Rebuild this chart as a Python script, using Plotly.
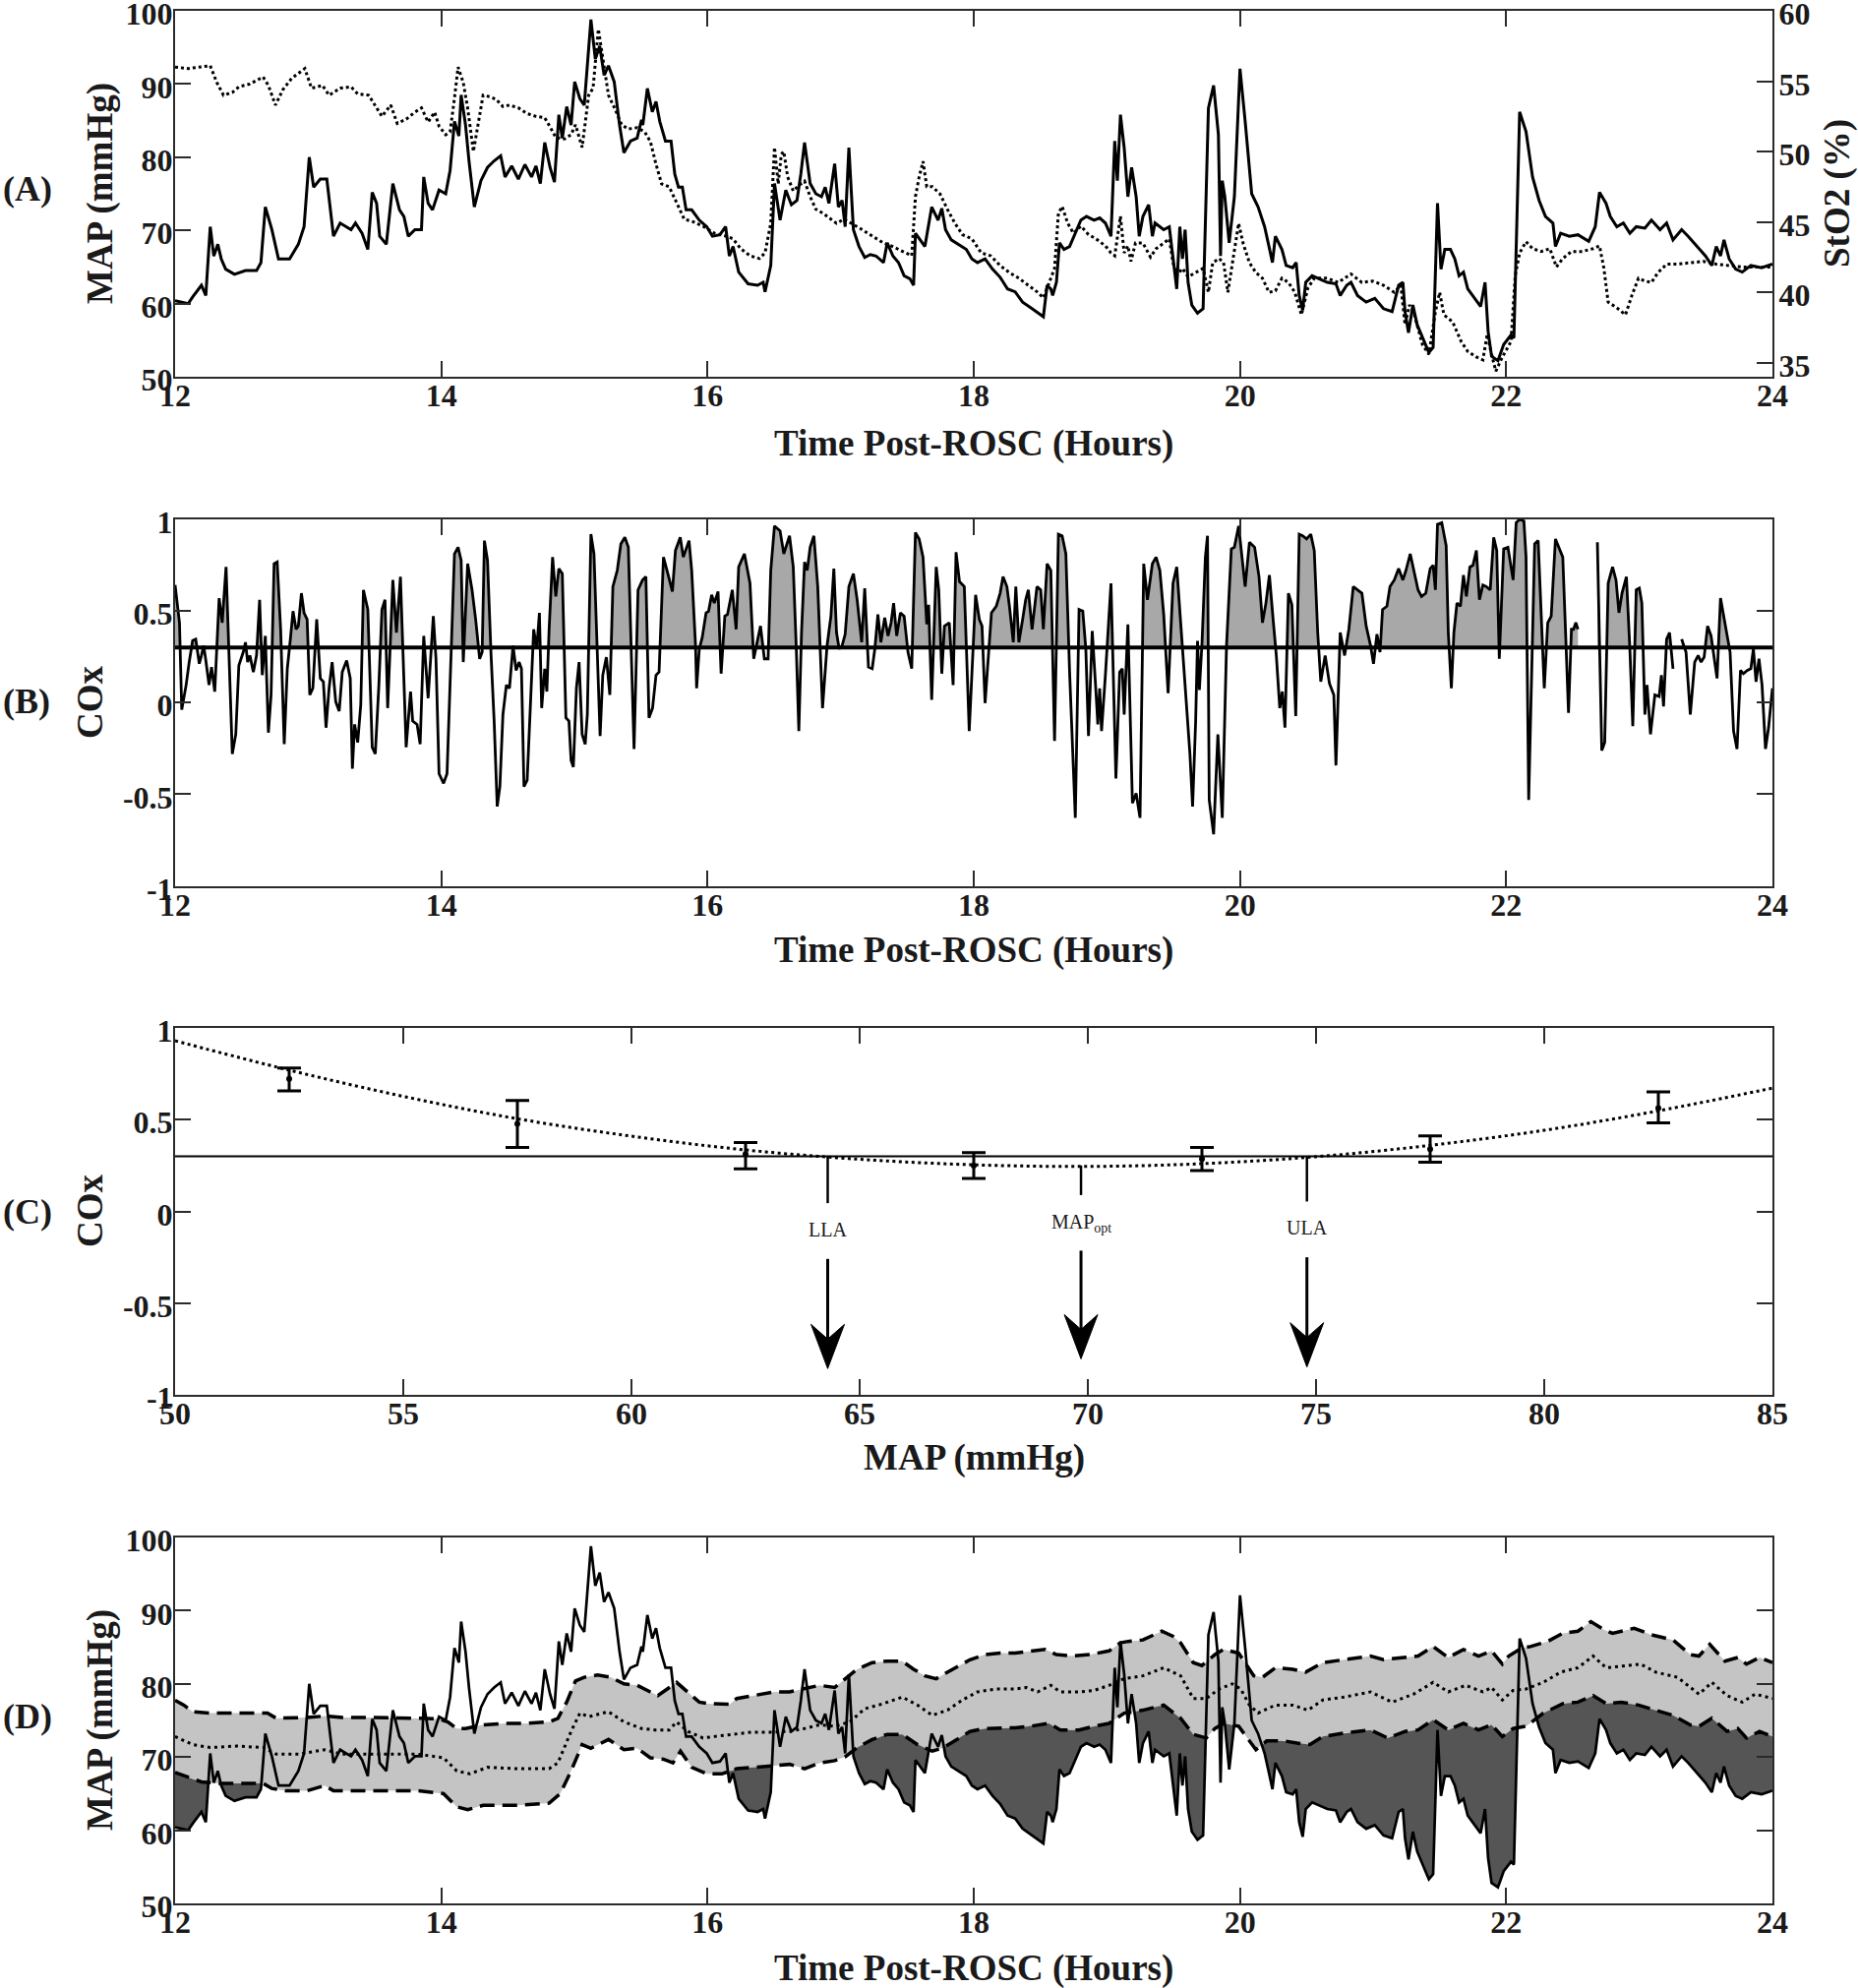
import numpy as np
import plotly.graph_objects as go

# ---------------- DATA ----------------
# Mean arterial pressure (mmHg) vs time post-ROSC (hours)
MAP_T = [12.000, 12.099, 12.132, 12.198, 12.231, 12.264, 12.291, 12.321, 12.347, 12.380, 12.446, 12.529, 12.612, 12.645,
         12.678, 12.727, 12.777, 12.860, 12.926, 12.969, 13.008, 13.041, 13.091, 13.140, 13.190, 13.240, 13.322, 13.355,
         13.405, 13.448, 13.481, 13.514, 13.537, 13.587, 13.636, 13.686, 13.719, 13.752, 13.802, 13.851, 13.868, 13.901,
         13.934, 13.983, 14.033, 14.066, 14.099, 14.132, 14.149, 14.182, 14.208, 14.248, 14.298, 14.347, 14.397, 14.446,
         14.479, 14.529, 14.579, 14.628, 14.678, 14.711, 14.744, 14.777, 14.817, 14.850, 14.883, 14.909, 14.942, 14.975,
         15.002, 15.041, 15.074, 15.124, 15.157, 15.190, 15.223, 15.256, 15.299, 15.339, 15.372, 15.421, 15.471, 15.504,
         15.514, 15.548, 15.585, 15.613, 15.641, 15.684, 15.726, 15.754, 15.782, 15.811, 15.839, 15.881, 15.938, 15.994,
         16.037, 16.093, 16.136, 16.164, 16.192, 16.234, 16.305, 16.376, 16.418, 16.432, 16.475, 16.503, 16.545, 16.588,
         16.630, 16.672, 16.701, 16.729, 16.771, 16.814, 16.856, 16.884, 16.912, 16.955, 16.983, 17.011, 17.034, 17.062,
         17.096, 17.138, 17.181, 17.223, 17.266, 17.322, 17.350, 17.393, 17.435, 17.477, 17.520, 17.548, 17.562, 17.633,
         17.684, 17.732, 17.760, 17.788, 17.831, 17.887, 17.944, 17.986, 18.028, 18.085, 18.141, 18.198, 18.254, 18.311,
         18.367, 18.438, 18.480, 18.523, 18.551, 18.579, 18.593, 18.621, 18.644, 18.678, 18.720, 18.763, 18.805, 18.847,
         18.904, 18.946, 18.989, 19.031, 19.059, 19.079, 19.102, 19.130, 19.158, 19.186, 19.220, 19.243, 19.271, 19.314,
         19.342, 19.362, 19.398, 19.427, 19.469, 19.497, 19.525, 19.548, 19.568, 19.588, 19.610, 19.638, 19.681, 19.723,
         19.763, 19.802, 19.838, 19.854, 19.867, 19.886, 19.919, 19.958, 20.000, 20.039, 20.088, 20.136, 20.185, 20.218,
         20.244, 20.266, 20.315, 20.347, 20.396, 20.422, 20.445, 20.471, 20.494, 20.542, 20.591, 20.656, 20.721, 20.753,
         20.802, 20.834, 20.883, 20.948, 21.013, 21.078, 21.143, 21.192, 21.224, 21.240, 21.266, 21.299, 21.331, 21.370,
         21.419, 21.451, 21.484, 21.510, 21.539, 21.581, 21.614, 21.646, 21.679, 21.711, 21.760, 21.808, 21.841, 21.864,
         21.890, 21.938, 21.981, 22.036, 22.058, 22.101, 22.149, 22.198, 22.247, 22.295, 22.351, 22.370, 22.409, 22.474,
         22.539, 22.620, 22.669, 22.701, 22.750, 22.782, 22.831, 22.880, 22.929, 22.977, 23.042, 23.091, 23.156, 23.205,
         23.253, 23.318, 23.367, 23.432, 23.497, 23.545, 23.578, 23.610, 23.636, 23.675, 23.724, 23.773, 23.838, 23.919,
         24.000]
MAP_V = [60.4, 60.0, 60.9, 62.5, 61.1, 70.5, 66.5, 68.1, 66.1, 64.7, 64.0, 64.5, 64.5, 65.6,
         73.2, 70.1, 66.1, 66.1, 68.1, 70.5, 80.0, 75.9, 77.0, 77.0, 69.2, 71.0, 70.1, 71.0,
         69.6, 67.4, 75.2, 73.7, 69.2, 68.1, 76.4, 72.8, 71.9, 69.2, 70.1, 70.1, 77.3, 73.7,
         72.8, 75.5, 75.0, 78.2, 84.9, 82.9, 88.5, 84.4, 79.5, 73.2, 76.8, 78.6, 79.5, 80.2,
         77.3, 78.8, 77.0, 79.0, 77.3, 78.8, 76.4, 82.0, 78.6, 76.6, 85.8, 82.6, 86.9, 84.4,
         90.3, 88.0, 87.1, 98.8, 93.4, 95.2, 91.2, 92.5, 90.3, 84.4, 80.6, 82.2, 82.6, 85.1,
         84.4, 89.4, 86.2, 87.6, 84.9, 82.2, 82.2, 77.7, 75.9, 75.9, 72.8, 72.8, 71.4, 70.5,
         69.2, 69.4, 70.5, 66.5, 67.8, 64.3, 62.7, 62.5, 62.9, 61.6, 65.2, 76.4, 71.4, 75.5,
         73.5, 74.1, 77.7, 82.0, 76.4, 75.0, 74.6, 75.9, 73.7, 79.1, 73.2, 74.1, 70.5, 81.3,
         70.1, 67.8, 66.3, 66.7, 66.5, 65.6, 68.3, 66.5, 65.6, 63.8, 63.4, 62.5, 69.6, 67.8,
         73.2, 71.4, 73.0, 70.1, 68.7, 68.1, 67.4, 66.1, 65.6, 66.1, 64.7, 63.6, 62.0, 61.6,
         60.2, 59.3, 58.7, 58.2, 62.5, 62.0, 61.1, 62.9, 68.3, 67.4, 67.8, 69.6, 71.4, 71.9,
         71.4, 71.7, 71.0, 69.2, 82.2, 76.8, 85.8, 81.3, 74.6, 78.6, 74.6, 69.2, 71.9, 73.5,
         69.2, 71.0, 70.5, 70.1, 70.5, 66.5, 62.0, 70.5, 66.1, 70.1, 62.9, 59.8, 58.7, 59.3,
         86.7, 89.8, 83.1, 66.5, 76.8, 74.6, 68.3, 74.6, 92.1, 84.9, 75.0, 73.2, 70.5, 67.8,
         65.6, 69.2, 67.4, 65.2, 64.9, 65.6, 61.1, 59.1, 62.9, 63.8, 63.4, 62.9, 62.7, 61.1,
         62.5, 62.9, 61.1, 60.2, 60.7, 59.3, 58.9, 62.5, 62.9, 58.9, 56.0, 59.8, 57.1, 55.3,
         53.3, 54.0, 73.7, 64.7, 67.4, 67.4, 66.1, 63.8, 64.3, 62.0, 60.7, 59.6, 62.9, 56.2,
         52.8, 52.2, 54.4, 55.7, 55.3, 86.2, 83.5, 77.3, 74.1, 71.9, 71.0, 67.8, 69.6, 69.2,
         69.4, 68.5, 70.5, 75.2, 73.7, 71.9, 70.5, 71.0, 69.6, 70.5, 70.3, 71.4, 70.1, 71.0,
         68.7, 70.1, 69.2, 67.8, 66.5, 65.2, 67.8, 66.5, 68.7, 66.1, 64.7, 64.3, 65.2, 64.9,
         65.4]

# Tissue oxygen saturation StO2 (%)
STO2_T = [12.000, 12.099, 12.264, 12.314, 12.364, 12.430, 12.479, 12.562, 12.661, 12.701, 12.754, 12.810, 12.876, 12.975,
          13.025, 13.107, 13.157, 13.240, 13.322, 13.372, 13.455, 13.504, 13.554, 13.620, 13.669, 13.736, 13.802, 13.851,
          13.901, 13.950, 13.983, 14.033, 14.066, 14.099, 14.126, 14.165, 14.198, 14.241, 14.281, 14.314, 14.364, 14.413,
          14.463, 14.512, 14.579, 14.645, 14.711, 14.777, 14.826, 14.860, 14.926, 14.975, 15.008, 15.058, 15.107, 15.140,
          15.180, 15.213, 15.256, 15.306, 15.355, 15.405, 15.471, 15.528, 15.571, 15.613, 15.655, 15.712, 15.768, 15.825,
          15.895, 15.966, 16.051, 16.136, 16.192, 16.249, 16.319, 16.390, 16.432, 16.475, 16.503, 16.531, 16.554, 16.573,
          16.602, 16.644, 16.686, 16.729, 16.771, 16.814, 16.870, 16.927, 16.969, 17.025, 17.082, 17.153, 17.237, 17.322,
          17.379, 17.463, 17.534, 17.562, 17.590, 17.619, 17.647, 17.689, 17.746, 17.802, 17.859, 17.915, 17.986, 18.056,
          18.127, 18.198, 18.268, 18.339, 18.410, 18.480, 18.523, 18.565, 18.607, 18.636, 18.664, 18.706, 18.749, 18.805,
          18.862, 18.918, 18.989, 19.031, 19.059, 19.102, 19.130, 19.158, 19.181, 19.215, 19.271, 19.328, 19.370, 19.427,
          19.469, 19.497, 19.525, 19.568, 19.610, 19.667, 19.723, 19.763, 19.795, 19.844, 19.877, 19.909, 19.942, 19.990,
          20.023, 20.071, 20.120, 20.169, 20.218, 20.266, 20.315, 20.364, 20.412, 20.461, 20.510, 20.558, 20.656, 20.737,
          20.834, 20.916, 20.997, 21.078, 21.159, 21.208, 21.240, 21.273, 21.305, 21.338, 21.370, 21.419, 21.468, 21.500,
          21.532, 21.597, 21.662, 21.711, 21.776, 21.825, 21.857, 21.890, 21.922, 21.971, 22.036, 22.068, 22.101, 22.149,
          22.198, 22.263, 22.328, 22.377, 22.425, 22.490, 22.571, 22.653, 22.701, 22.734, 22.766, 22.831, 22.896, 22.945,
          22.994, 23.042, 23.091, 23.140, 23.205, 23.286, 23.383, 23.481, 23.578, 23.675, 23.773, 23.903, 24.000]
STO2_V = [56.0, 55.9, 56.1, 54.9, 54.0, 54.2, 54.6, 54.8, 55.3, 54.7, 53.3, 54.4, 55.2, 55.9,
          54.5, 54.7, 54.0, 54.5, 54.6, 54.1, 54.0, 53.3, 52.5, 53.3, 52.0, 52.3, 52.8, 53.1,
          52.1, 52.8, 51.8, 51.2, 51.4, 53.8, 56.0, 54.9, 53.1, 50.0, 52.1, 54.0, 53.9, 53.7,
          53.2, 53.3, 53.1, 52.7, 52.5, 52.4, 51.6, 51.0, 50.9, 51.2, 51.9, 50.3, 54.0, 54.5,
          58.7, 56.6, 54.0, 53.0, 51.9, 51.6, 51.7, 51.4, 50.7, 49.1, 47.7, 47.5, 46.3, 45.2,
          45.0, 44.7, 44.2, 44.0, 43.8, 43.1, 42.6, 42.4, 42.8, 44.9, 50.3, 47.7, 49.8, 50.0,
          48.2, 47.2, 47.6, 47.9, 46.8, 45.9, 45.6, 45.2, 44.9, 45.2, 44.9, 44.5, 44.0, 43.5,
          43.3, 42.9, 42.6, 46.8, 48.2, 49.3, 47.5, 47.5, 47.0, 45.9, 44.9, 44.1, 43.8, 42.8,
          42.6, 41.9, 41.4, 41.0, 40.5, 40.0, 39.6, 40.7, 41.7, 45.6, 46.1, 44.9, 44.2, 44.7,
          44.1, 43.8, 43.3, 42.8, 42.6, 45.4, 42.8, 43.3, 42.2, 43.5, 43.5, 42.5, 43.1, 43.5,
          43.8, 42.1, 41.2, 41.7, 41.1, 41.4, 41.7, 40.0, 42.1, 42.4, 42.1, 40.0, 42.1, 44.9,
          43.5, 42.1, 41.4, 41.0, 40.0, 40.1, 41.0, 40.7, 40.0, 38.4, 40.3, 41.0, 41.0, 40.7,
          41.3, 40.7, 40.8, 40.5, 40.0, 40.5, 37.7, 39.1, 38.6, 37.5, 36.3, 35.6, 38.6, 40.0,
          38.4, 37.9, 36.5, 35.8, 35.4, 35.2, 37.0, 35.6, 34.4, 35.4, 36.5, 41.2, 42.8, 43.6,
          43.1, 42.9, 43.1, 41.8, 42.4, 42.9, 42.9, 43.1, 43.3, 41.7, 39.3, 38.9, 38.4, 39.8,
          41.0, 40.8, 40.7, 41.4, 42.0, 42.0, 42.1, 42.2, 42.0, 41.9, 41.8, 41.8, 41.8]

# Cerebral oximetry index COx (None = gap in recording)
COX_T = [12.000, 12.033, 12.050, 12.083, 12.106, 12.132, 12.155, 12.182, 12.198, 12.215, 12.231, 12.255, 12.274, 12.298,
         12.331, 12.354, 12.383, 12.403, 12.430, 12.456, 12.479, 12.512, 12.529, 12.545, 12.562, 12.588, 12.612, 12.635,
         12.655, 12.678, 12.701, 12.721, 12.744, 12.767, 12.793, 12.820, 12.843, 12.866, 12.886, 12.909, 12.926, 12.949,
         12.969, 12.992, 13.012, 13.035, 13.064, 13.091, 13.114, 13.134, 13.157, 13.180, 13.207, 13.233, 13.256, 13.289,
         13.316, 13.332, 13.349, 13.372, 13.395, 13.415, 13.448, 13.481, 13.504, 13.531, 13.554, 13.577, 13.597, 13.636,
         13.663, 13.693, 13.736, 13.769, 13.785, 13.818, 13.841, 13.868, 13.901, 13.940, 13.960, 13.983, 14.017, 14.043,
         14.066, 14.099, 14.126, 14.149, 14.165, 14.198, 14.231, 14.258, 14.288, 14.307, 14.324, 14.347, 14.374, 14.397,
         14.420, 14.440, 14.463, 14.489, 14.512, 14.539, 14.562, 14.585, 14.602, 14.621, 14.645, 14.668, 14.694, 14.717,
         14.737, 14.754, 14.777, 14.793, 14.810, 14.836, 14.860, 14.883, 14.909, 14.936, 14.959, 14.975, 14.992, 15.015,
         15.035, 15.058, 15.081, 15.097, 15.124, 15.147, 15.174, 15.193, 15.213, 15.240, 15.266, 15.289, 15.322, 15.349,
         15.379, 15.405, 15.428, 15.448, 15.478, 15.512, 15.537, 15.560, 15.587, 15.613, 15.636, 15.669, 15.702, 15.736,
         15.759, 15.795, 15.818, 15.861, 15.881, 15.910, 15.918, 15.938, 15.960, 15.989, 16.008, 16.031, 16.051, 16.079,
         16.102, 16.130, 16.150, 16.186, 16.215, 16.234, 16.277, 16.319, 16.347, 16.370, 16.398, 16.427, 16.455, 16.475,
         16.503, 16.545, 16.573, 16.616, 16.644, 16.667, 16.686, 16.706, 16.729, 16.749, 16.771, 16.799, 16.828, 16.864,
         16.898, 16.927, 16.949, 16.969, 16.989, 17.011, 17.034, 17.062, 17.096, 17.124, 17.158, 17.181, 17.209, 17.237,
         17.257, 17.280, 17.302, 17.331, 17.356, 17.379, 17.398, 17.421, 17.449, 17.477, 17.506, 17.534, 17.562, 17.590,
         17.619, 17.647, 17.661, 17.684, 17.718, 17.737, 17.760, 17.780, 17.816, 17.845, 17.867, 17.893, 17.929, 17.966,
         18.014, 18.042, 18.062, 18.085, 18.113, 18.133, 18.169, 18.198, 18.220, 18.249, 18.268, 18.297, 18.316, 18.339,
         18.367, 18.390, 18.410, 18.438, 18.475, 18.503, 18.523, 18.551, 18.579, 18.607, 18.636, 18.664, 18.692, 18.720,
         18.763, 18.791, 18.819, 18.842, 18.862, 18.890, 18.918, 18.932, 18.946, 18.960, 18.989, 19.031, 19.068, 19.096,
         19.116, 19.130, 19.158, 19.192, 19.220, 19.249, 19.277, 19.305, 19.342, 19.370, 19.398, 19.427, 19.460, 19.497,
         19.525, 19.568, 19.605, 19.624, 19.644, 19.667, 19.681, 19.695, 19.715, 19.740, 19.756, 19.769, 19.802, 19.834,
         19.867, 19.899, 19.935, 19.958, 19.990, 20.006, 20.039, 20.071, 20.110, 20.143, 20.169, 20.195, 20.221, 20.250,
         20.273, 20.299, 20.318, 20.338, 20.364, 20.390, 20.419, 20.445, 20.471, 20.500, 20.532, 20.558, 20.584, 20.607,
         20.640, 20.672, 20.705, 20.721, 20.753, 20.786, 20.818, 20.851, 20.883, 20.916, 20.948, 20.981, 21.003, 21.029,
         21.052, 21.071, 21.104, 21.127, 21.159, 21.192, 21.224, 21.247, 21.279, 21.305, 21.338, 21.364, 21.396, 21.429,
         21.451, 21.468, 21.484, 21.516, 21.549, 21.565, 21.588, 21.607, 21.630, 21.656, 21.679, 21.701, 21.727, 21.750,
         21.776, 21.799, 21.825, 21.851, 21.880, 21.906, 21.929, 21.948, 21.981, 22.013, 22.052, 22.075, 22.101, 22.133,
         22.149, 22.169, 22.188, 22.214, 22.240, 22.263, 22.286, 22.312, 22.338, 22.370, 22.403, 22.425, 22.448, 22.468,
         22.490, 22.506, 22.523, 22.539, 22.610, 22.685, 22.718, 22.740, 22.766, 22.799, 22.825, 22.847, 22.870, 22.903,
         22.929, 22.951, 22.977, 23.000, 23.019, 23.042, 23.058, 23.084, 23.117, 23.149, 23.166, 23.182, 23.205, 23.227,
         23.253, 23.285, 23.318, 23.351, 23.383, 23.416, 23.442, 23.464, 23.487, 23.513, 23.539, 23.584, 23.610, 23.643,
         23.682, 23.708, 23.734, 23.760, 23.782, 23.812, 23.838, 23.857, 23.877, 23.899, 23.922, 23.948, 23.971, 24.000]
COX_V = [0.642, 0.436, -0.039, 0.096, 0.221, 0.338, 0.346, 0.212, 0.257, 0.311, 0.230, 0.096, 0.194, 0.060,
         0.570, 0.436, 0.740, 0.329, -0.280, -0.173, 0.203, 0.275, 0.329, 0.221, 0.257, 0.167, 0.257, 0.561,
         0.150, 0.364, -0.164, 0.042, 0.758, 0.767, 0.400, -0.227, 0.185, 0.346, 0.499, 0.400, 0.418, 0.597,
         0.490, 0.454, 0.042, 0.078, 0.454, 0.132, 0.114, -0.137, 0.078, 0.221, 0.005, -0.047, 0.167, 0.230,
         0.132, -0.361, -0.119, -0.218, -0.012, 0.615, 0.508, -0.244, -0.280, 0.096, 0.508, 0.561, -0.030, 0.669,
         0.382, 0.687, -0.244, 0.060, -0.101, -0.119, -0.227, 0.364, 0.024, 0.472, 0.239, -0.388, -0.441, -0.388,
         0.150, 0.812, 0.848, 0.776, 0.221, 0.758, 0.615, 0.454, 0.239, 0.275, 0.884, 0.776, 0.257, -0.101,
         -0.567, -0.459, -0.065, 0.096, 0.078, 0.311, 0.176, 0.221, 0.185, -0.459, -0.423, -0.030, 0.400, 0.293,
         0.490, -0.030, 0.185, 0.060, 0.400, 0.794, 0.579, 0.731, 0.704, -0.083, -0.101, -0.316, -0.352, 0.078,
         0.221, -0.173, -0.227, -0.065, 0.919, 0.812, 0.150, -0.182, 0.150, 0.248, 0.042, 0.633, 0.722, 0.866,
         0.902, 0.848, 0.257, -0.253, 0.615, 0.669, 0.687, -0.083, -0.030, 0.150, 0.167, 0.794, 0.704, 0.606,
         0.830, 0.902, 0.794, 0.884, 0.722, 0.311, 0.078, 0.293, 0.355, 0.490, 0.499, 0.588, 0.543, 0.606,
         0.158, 0.472, 0.481, 0.615, 0.400, 0.740, 0.812, 0.651, 0.239, 0.329, 0.418, 0.239, 0.239, 0.722,
         0.964, 0.937, 0.812, 0.910, 0.740, 0.293, -0.155, 0.382, 0.767, 0.722, 0.848, 0.910, 0.633, -0.030,
         0.311, 0.472, 0.731, 0.382, 0.293, 0.311, 0.373, 0.633, 0.704, 0.561, 0.329, 0.624, 0.194, 0.185,
         0.293, 0.481, 0.329, 0.463, 0.364, 0.436, 0.543, 0.364, 0.490, 0.472, 0.275, 0.185, 0.928, 0.893,
         0.794, 0.427, 0.534, 0.015, 0.740, 0.615, 0.158, 0.418, 0.436, 0.096, 0.821, 0.660, 0.633, -0.155,
         0.588, 0.454, 0.418, -0.003, 0.275, 0.490, 0.526, 0.597, 0.687, 0.633, 0.526, 0.329, 0.633, 0.329,
         0.454, 0.561, 0.615, 0.400, 0.633, 0.615, 0.400, 0.758, 0.722, -0.209, 0.919, 0.910, 0.812, 0.167,
         -0.629, 0.508, 0.499, 0.293, -0.182, 0.391, 0.060, -0.119, 0.078, -0.155, 0.150, 0.651, -0.415, 0.167,
         0.185, -0.065, 0.427, -0.549, -0.495, -0.629, 0.758, 0.561, 0.758, 0.794, 0.722, 0.481, 0.051, 0.651,
         0.740, 0.293, -0.119, -0.280, -0.567, -0.101, 0.337, 0.069, 0.329, 0.794, 0.910, -0.531, -0.719, -0.173,
         -0.629, 0.311, 0.839, 0.848, 0.964, 0.866, 0.633, 0.875, 0.848, 0.687, 0.436, 0.543, 0.696, 0.445,
         0.257, -0.030, 0.060, -0.137, 0.597, 0.534, -0.074, 0.919, 0.910, 0.893, 0.919, 0.830, 0.382, 0.114,
         0.257, 0.105, 0.042, -0.343, 0.382, 0.257, 0.400, 0.633, 0.615, 0.597, 0.418, 0.311, 0.212, 0.373,
         0.275, 0.508, 0.526, 0.633, 0.669, 0.731, 0.669, 0.722, 0.812, 0.722, 0.615, 0.579, 0.597, 0.731,
         0.749, 0.615, 0.973, 0.982, 0.857, 0.382, 0.078, 0.382, 0.543, 0.526, 0.696, 0.579, 0.740, 0.749,
         0.830, 0.561, 0.642, 0.633, 0.615, 0.902, 0.830, 0.239, 0.839, 0.848, 0.669, 0.982, 1.000, 0.991,
         0.794, -0.531, 0.078, 0.866, 0.884, 0.436, 0.078, 0.436, 0.472, 0.893, 0.839, 0.794, 0.346, -0.056,
         0.400, 0.400, 0.436, 0.400, None, 0.875, -0.262, -0.218, 0.651, 0.740, 0.669, 0.490, 0.597, 0.687,
         0.293, -0.128, 0.615, 0.624, 0.543, -0.065, 0.096, -0.173, 0.042, 0.033, 0.150, -0.021, 0.346, 0.382,
         0.185, None, 0.346, 0.275, -0.065, 0.221, 0.257, 0.221, 0.248, 0.418, 0.364, 0.132, 0.570, 0.436,
         0.275, -0.155, -0.253, 0.176, 0.158, 0.176, 0.185, 0.293, 0.114, 0.239, 0.096, -0.253, -0.137, 0.078]
COX_THRESHOLD = 0.3

# Panel C: COx binned by MAP
BIN_MAP = [52.5, 57.5, 62.5, 67.5, 72.5, 77.5, 82.5]
BIN_MEAN = [0.723, 0.477, 0.3125, 0.250, 0.286, 0.339, 0.5625]
BIN_UPPER = [0.782, 0.605, 0.375, 0.321, 0.348, 0.411, 0.652]
BIN_LOWER = [0.657, 0.348, 0.232, 0.179, 0.223, 0.268, 0.482]
FIT_MAP = [50, 52.5, 55, 57.5, 60, 62.5, 65, 67.5, 70, 72.5, 75, 77.5, 80, 82.5, 85]
FIT_COX = [0.930, 0.770, 0.627, 0.505, 0.410, 0.335, 0.284, 0.254, 0.245, 0.260, 0.298, 0.360, 0.442, 0.548, 0.672]
LLA_VAL, MAPOPT_VAL, ULA_VAL = 64.3, 69.85, 74.8

# Panel D: individualized limits of autoregulation over time
ULA_T = [12.000, 12.066, 12.132, 12.264, 12.529, 12.694, 12.760, 12.860, 12.992, 13.124, 13.256, 13.488, 13.653, 13.818,
         13.983, 14.050, 14.116, 14.182, 14.314, 14.479, 14.645, 14.810, 14.876, 14.942, 15.008, 15.074, 15.174, 15.273,
         15.372, 15.471, 15.570, 15.627, 15.768, 15.853, 15.938, 16.008, 16.164, 16.220, 16.333, 16.503, 16.616, 16.729,
         16.842, 16.955, 17.040, 17.124, 17.237, 17.350, 17.463, 17.548, 17.633, 17.718, 17.802, 17.887, 17.972, 18.085,
         18.198, 18.311, 18.424, 18.537, 18.621, 18.734, 18.876, 19.017, 19.102, 19.158, 19.271, 19.412, 19.497, 19.554,
         19.649, 19.714, 19.812, 19.877, 19.990, 20.039, 20.104, 20.169, 20.266, 20.396, 20.494, 20.623, 20.786, 20.981,
         21.078, 21.208, 21.338, 21.451, 21.565, 21.679, 21.792, 21.890, 21.971, 22.019, 22.117, 22.182, 22.312, 22.425,
         22.539, 22.636, 22.734, 22.799, 22.961, 23.091, 23.253, 23.383, 23.448, 23.529, 23.643, 23.740, 23.805, 23.903,
         24.000]
ULA_V = [77.75, 77.1, 76.2, 76.0, 76.0, 76.0, 75.3, 75.3, 75.4, 75.6, 75.4, 75.4, 75.4, 75.3,
         75.2, 74.8, 73.9, 73.9, 74.4, 74.6, 74.6, 74.8, 75.3, 77.5, 80.4, 80.9, 81.2, 80.9,
         80.0, 79.8, 78.9, 78.4, 80.2, 78.9, 77.5, 77.3, 77.2, 78.0, 78.4, 78.9, 78.9, 79.3,
         79.8, 79.5, 80.7, 82.0, 82.9, 83.1, 83.1, 82.0, 81.1, 80.7, 81.6, 82.5, 83.3, 84.0,
         84.2, 84.2, 84.5, 84.7, 84.0, 83.8, 84.0, 84.5, 85.6, 85.8, 86.0, 87.2, 86.5, 85.6,
         82.9, 82.5, 84.0, 84.7, 84.2, 82.9, 81.1, 80.9, 82.2, 82.0, 81.6, 82.9, 83.3, 83.8,
         83.3, 83.6, 83.8, 85.1, 83.6, 84.7, 83.8, 84.5, 82.7, 83.8, 84.9, 85.1, 85.8, 86.9,
         87.2, 88.5, 87.4, 86.9, 87.6, 86.7, 86.0, 84.0, 83.8, 85.4, 83.1, 83.6, 82.7, 83.6,
         82.9]
OPT_T = [12.000, 12.132, 12.264, 12.463, 12.661, 12.760, 12.926, 13.124, 13.256, 13.488, 13.818, 14.017, 14.116, 14.215,
         14.347, 14.579, 14.810, 14.876, 14.975, 15.041, 15.107, 15.256, 15.372, 15.504, 15.603, 15.712, 15.768, 15.853,
         15.966, 16.051, 16.192, 16.333, 16.475, 16.616, 16.729, 16.842, 16.955, 17.068, 17.181, 17.322, 17.463, 17.576,
         17.689, 17.802, 17.915, 18.028, 18.169, 18.311, 18.395, 18.480, 18.579, 18.650, 18.791, 18.904, 19.017, 19.130,
         19.271, 19.427, 19.554, 19.649, 19.747, 19.844, 19.942, 20.006, 20.071, 20.136, 20.266, 20.396, 20.510, 20.623,
         20.786, 20.981, 21.143, 21.305, 21.451, 21.565, 21.695, 21.825, 21.890, 21.971, 22.052, 22.149, 22.279, 22.409,
         22.539, 22.653, 22.750, 22.896, 23.010, 23.123, 23.286, 23.448, 23.545, 23.659, 23.773, 23.870, 24.000]
OPT_V = [72.8, 71.7, 71.3, 71.5, 71.3, 70.4, 70.4, 71.0, 70.4, 70.4, 70.4, 69.9, 68.1, 67.7,
         68.6, 68.4, 68.4, 69.2, 73.5, 76.0, 75.5, 76.2, 74.8, 73.9, 73.7, 73.7, 74.8, 73.5,
         72.6, 72.8, 73.1, 73.4, 73.4, 73.5, 73.9, 74.4, 74.2, 74.8, 76.6, 77.3, 78.2, 77.1,
         75.7, 76.4, 77.8, 78.9, 79.3, 79.3, 79.5, 78.9, 79.8, 78.9, 78.9, 79.1, 79.8, 80.7,
         81.1, 82.2, 81.1, 78.0, 78.0, 79.3, 80.0, 79.3, 77.1, 76.0, 77.1, 77.1, 76.4, 77.8,
         78.2, 78.9, 77.5, 78.6, 80.2, 78.9, 79.8, 78.9, 79.5, 77.8, 79.1, 79.3, 80.2, 81.6,
         82.2, 83.8, 82.2, 82.5, 82.7, 81.6, 80.9, 78.6, 80.2, 78.4, 77.5, 78.6, 78.0]
LLA_T = [12.000, 12.099, 12.198, 12.331, 12.661, 12.727, 12.826, 12.992, 13.124, 13.190, 13.488, 13.818, 14.017, 14.116,
         14.198, 14.314, 14.579, 14.810, 14.893, 14.975, 15.058, 15.124, 15.256, 15.372, 15.471, 15.570, 15.669, 15.740,
         15.797, 15.881, 15.994, 16.107, 16.220, 16.333, 16.503, 16.616, 16.729, 16.842, 16.955, 17.040, 17.124, 17.237,
         17.350, 17.463, 17.576, 17.689, 17.774, 17.887, 17.972, 18.085, 18.198, 18.311, 18.424, 18.565, 18.650, 18.791,
         18.904, 19.017, 19.130, 19.271, 19.427, 19.554, 19.649, 19.747, 19.812, 19.877, 19.990, 20.055, 20.120, 20.201,
         20.331, 20.429, 20.526, 20.623, 20.786, 20.981, 21.110, 21.240, 21.338, 21.451, 21.565, 21.679, 21.792, 21.890,
         21.971, 22.052, 22.149, 22.279, 22.425, 22.539, 22.653, 22.750, 22.864, 22.994, 23.123, 23.253, 23.383, 23.448,
         23.545, 23.659, 23.740, 23.805, 23.903, 24.000]
LLA_V = [67.9, 67.2, 66.6, 66.4, 66.4, 65.7, 65.4, 65.4, 66.1, 65.4, 65.4, 65.4, 65.0, 63.2,
         62.8, 63.4, 63.4, 63.7, 65.0, 68.1, 71.7, 71.2, 72.4, 71.0, 71.2, 69.9, 69.7, 69.2,
         70.8, 68.6, 67.7, 67.7, 68.4, 68.6, 68.8, 69.0, 68.4, 69.2, 69.5, 70.1, 71.3, 72.4,
         73.1, 73.1, 71.7, 70.8, 71.3, 72.6, 73.5, 73.9, 73.9, 74.0, 74.2, 74.6, 73.7, 73.7,
         74.2, 74.6, 76.0, 76.4, 77.1, 75.3, 73.1, 72.6, 73.9, 74.6, 74.2, 72.6, 71.0, 72.2,
         72.2, 71.9, 71.7, 72.8, 73.3, 73.7, 72.6, 73.5, 73.7, 75.1, 73.7, 74.6, 73.7, 74.4,
         72.8, 73.9, 74.2, 76.0, 77.3, 77.5, 78.4, 77.3, 77.5, 77.1, 76.4, 75.7, 74.4, 74.2,
         75.3, 73.5, 73.9, 72.6, 73.5, 72.8]

HOUR_TICKS = [12, 14, 16, 18, 20, 22, 24]
MAP_TICKS = [50, 60, 70, 80, 90, 100]
STO2_TICKS = [35, 40, 45, 50, 55, 60]
COX_TICKS = [-1, -0.5, 0, 0.5, 1]
COX_TICKTEXT = ["-1", "-0.5", "0", "0.5", "1"]
MAPX_TICKS = [50, 55, 60, 65, 70, 75, 80, 85]

# ---------------- helpers (page pixel -> paper fraction) ----------------
W, H = 1889, 2021


def pxx(x):
    return x / W


def pxy(y):
    return 1 - y / H


XL, XR = 178, 1802
PAN = {'A': (11, 383), 'B': (528, 900.5), 'C': (1045, 1418), 'D': (1563, 1935)}
FONT = "Liberation Serif"
INK = "#1a1a1a"
AXC = "#2b2b2b"


def fill_between(t, lo, hi):
    """Polygons (None separated) of regions where hi > lo."""
    xs, ys = [], []
    seg = []

    def close():
        if seg:
            xs.extend([s[0] for s in seg] + [s[0] for s in reversed(seg)] + [None])
            ys.extend([s[1] for s in seg] + [s[2] for s in reversed(seg)] + [None])
            seg.clear()

    for i in range(len(t)):
        if np.isnan(lo[i]) or np.isnan(hi[i]):
            close()
            continue
        d = hi[i] - lo[i]
        if i > 0 and not (np.isnan(lo[i - 1]) or np.isnan(hi[i - 1])):
            dp = hi[i - 1] - lo[i - 1]
            if dp * d < 0:
                f = dp / (dp - d)
                tc = t[i - 1] + f * (t[i] - t[i - 1])
                yc = lo[i - 1] + f * (lo[i] - lo[i - 1])
                seg.append((tc, yc, yc))
                if d < 0:
                    close()
        if d >= 0:
            seg.append((t[i], lo[i], hi[i]))
    close()
    return xs, ys


fig = go.Figure()

# ---------------- Panel A ----------------
fig.add_trace(go.Scatter(x=STO2_T, y=STO2_V, mode="lines", xaxis="x", yaxis="y2",
                         line=dict(color="black", width=3, dash="3px,3px")))
fig.add_trace(go.Scatter(x=MAP_T, y=MAP_V, mode="lines", xaxis="x", yaxis="y",
                         line=dict(color="black", width=3)))

# ---------------- Panel B ----------------
ct = np.array(COX_T, dtype=float)
cv = np.array([np.nan if v is None else v for v in COX_V], dtype=float)
bx, by = fill_between(ct, np.full_like(cv, COX_THRESHOLD), cv)
fig.add_trace(go.Scatter(x=bx, y=by, mode="lines", fill="toself", fillcolor="#a8a8a8",
                         line=dict(width=0, color="rgba(0,0,0,0)"), xaxis="x2", yaxis="y3"))
fig.add_trace(go.Scatter(x=COX_T, y=COX_V, mode="lines", connectgaps=False, xaxis="x2", yaxis="y3",
                         line=dict(color="black", width=2.8)))
fig.add_trace(go.Scatter(x=[HOUR_TICKS[0], HOUR_TICKS[-1]], y=[COX_THRESHOLD] * 2, mode="lines",
                         xaxis="x2", yaxis="y3", line=dict(color="black", width=4)))

# ---------------- Panel C ----------------
fig.add_trace(go.Scatter(x=[MAPX_TICKS[0], MAPX_TICKS[-1]], y=[COX_THRESHOLD] * 2, mode="lines",
                         xaxis="x3", yaxis="y4", line=dict(color="black", width=2)))
fig.add_trace(go.Scatter(x=FIT_MAP, y=FIT_COX, mode="lines", line_shape="spline",
                         xaxis="x3", yaxis="y4", line=dict(color="black", width=3, dash="3px,3.5px")))
fig.add_trace(go.Scatter(x=BIN_MAP, y=BIN_MEAN, mode="markers", xaxis="x3", yaxis="y4",
                         marker=dict(color="black", size=6),
                         error_y=dict(type="data", symmetric=False,
                                      array=[u - m for u, m in zip(BIN_UPPER, BIN_MEAN)],
                                      arrayminus=[m - l for m, l in zip(BIN_MEAN, BIN_LOWER)],
                                      color="black", thickness=3, width=12)))

# ---------------- Panel D ----------------
band_x = list(LLA_T) + list(reversed(ULA_T))
band_y = list(LLA_V) + list(reversed(ULA_V))
fig.add_trace(go.Scatter(x=band_x, y=band_y, mode="lines", fill="toself", fillcolor="#c4c4c4",
                         line=dict(width=0, color="rgba(0,0,0,0)"), xaxis="x4", yaxis="y5"))
grid = np.union1d(np.array(MAP_T), np.array(LLA_T))
map_g = np.interp(grid, MAP_T, MAP_V)
lla_g = np.interp(grid, LLA_T, LLA_V)
dx, dy = fill_between(grid, map_g, lla_g)
fig.add_trace(go.Scatter(x=dx, y=dy, mode="lines", fill="toself", fillcolor="#555555",
                         line=dict(width=0, color="rgba(0,0,0,0)"), xaxis="x4", yaxis="y5"))
for tt, vv in ((ULA_T, ULA_V), (LLA_T, LLA_V)):
    fig.add_trace(go.Scatter(x=tt, y=vv, mode="lines", xaxis="x4", yaxis="y5",
                             line=dict(color="black", width=3.5, dash="15px,8px")))
fig.add_trace(go.Scatter(x=OPT_T, y=OPT_V, mode="lines", xaxis="x4", yaxis="y5",
                         line=dict(color="black", width=3, dash="3px,4px")))
fig.add_trace(go.Scatter(x=MAP_T, y=MAP_V, mode="lines", xaxis="x4", yaxis="y5",
                         line=dict(color="black", width=2.7)))

# ---------------- axes ----------------
tickfont = dict(family=FONT, size=32, color=INK, weight="bold")
base = dict(showline=True, linewidth=2, linecolor=AXC, ticks="inside", ticklen=16, tickwidth=2,
            tickcolor=AXC, showgrid=False, zeroline=False, tickfont=tickfont, automargin=False,
            ticklabeloverflow="allow")


def xdom():
    return [pxx(XL), pxx(XR)]


def ydom(k):
    top, bot = PAN[k]
    return [pxy(bot), pxy(top)]


XSO, YSO, Y2SO, YSH = -10, -6, -2, 3
lay = dict(
    width=W, height=H, margin=dict(l=0, r=0, t=0, b=0, pad=0, autoexpand=False),
    paper_bgcolor="white", plot_bgcolor="white", showlegend=False,
    xaxis=dict(base, domain=xdom(), range=[12, 24], anchor="y", tickvals=HOUR_TICKS, mirror="ticks",
               ticklabelstandoff=XSO),
    yaxis=dict(base, domain=ydom('A'), range=[50, 100], anchor="x", tickvals=MAP_TICKS, mirror=False,
               ticklabelstandoff=YSO, ticklabelshift=YSH),
    yaxis2=dict(base, overlaying="y", side="right", range=[34, 60], anchor="x", tickvals=STO2_TICKS,
                ticklabelstandoff=Y2SO, ticklabelshift=YSH),
    xaxis2=dict(base, domain=xdom(), range=[12, 24], anchor="y3", tickvals=HOUR_TICKS, mirror="ticks",
                ticklabelstandoff=XSO),
    yaxis3=dict(base, domain=ydom('B'), range=[-1, 1], anchor="x2", tickvals=COX_TICKS,
                ticktext=COX_TICKTEXT, mirror="ticks", ticklabelstandoff=YSO, ticklabelshift=YSH),
    xaxis3=dict(base, domain=xdom(), range=[50, 85], anchor="y4", tickvals=MAPX_TICKS, mirror="ticks",
                ticklabelstandoff=XSO),
    yaxis4=dict(base, domain=ydom('C'), range=[-1, 1], anchor="x3", tickvals=COX_TICKS,
                ticktext=COX_TICKTEXT, mirror="ticks", ticklabelstandoff=YSO, ticklabelshift=YSH),
    xaxis4=dict(base, domain=xdom(), range=[12, 24], anchor="y5", tickvals=HOUR_TICKS, mirror="ticks",
                ticklabelstandoff=XSO),
    yaxis5=dict(base, domain=ydom('D'), range=[50, 100], anchor="x4", tickvals=MAP_TICKS, mirror="ticks",
                ticklabelstandoff=YSO, ticklabelshift=YSH),
)
fig.update_layout(**lay)

# ---------------- text ----------------
ann = []


def paper_text(text, x, y, angle=0, xanchor="center", size=37):
    ann.append(dict(text=text, x=pxx(x), y=pxy(y), xref="paper", yref="paper", showarrow=False,
                    textangle=angle, xanchor=xanchor, yanchor="middle",
                    font=dict(family=FONT, size=size, color=INK, weight="bold")))


for lab, yc in (("(A)", 192), ("(B)", 713), ("(C)", 1232), ("(D)", 1745)):
    paper_text(lab, 1, yc, xanchor="left", size=36)
paper_text("MAP (mmHg)", 102, 197, angle=-90)
paper_text("StO2 (%)", 1868, 197, angle=-90)
paper_text("COx", 91, 714, angle=-90)
paper_text("COx", 91, 1231, angle=-90)
paper_text("MAP (mmHg)", 102, 1749, angle=-90)
paper_text("Time Post-ROSC (Hours)", 990, 451)
paper_text("Time Post-ROSC (Hours)", 990, 966)
paper_text("MAP (mmHg)", 990, 1482)
paper_text("Time Post-ROSC (Hours)", 990, 2001)

# arrows in panel C
ARROWS = [  # (x, label, stub_top, stub_bottom, label_y, shaft_top, tip)
    (LLA_VAL, "LLA", COX_THRESHOLD, 0.045, -0.098, -0.259, -0.857),
    (MAPOPT_VAL, "MAP<sub>opt</sub>", 0.25, 0.089, -0.065, -0.214, -0.804),
    (ULA_VAL, "ULA", COX_THRESHOLD, 0.054, -0.089, -0.25, -0.848),
]
shapes = []
for xv, lab, s0, s1, ly, sh0, tip in ARROWS:
    shapes.append(dict(type="line", xref="x3", yref="y4", x0=xv, x1=xv, y0=s0, y1=s1,
                       line=dict(color="black", width=2.5)))
    shapes.append(dict(type="line", xref="x3", yref="y4", x0=xv, x1=xv, y0=sh0, y1=tip + 0.1,
                       line=dict(color="black", width=3)))
    shapes.append(dict(type="path", xref="x3", yref="y4", xsizemode="pixel", ysizemode="pixel",
                       xanchor=xv, yanchor=tip, path="M 0 0 L -17 45 L 0 30 L 17 45 Z",
                       fillcolor="black", line=dict(color="black", width=1)))
    ann.append(dict(text=lab, x=xv, y=ly, xref="x3", yref="y4", showarrow=False,
                    xanchor="center", yanchor="middle",
                    font=dict(family=FONT, size=20, color=INK)))

fig.update_layout(annotations=ann, shapes=shapes)
fig.write_html("out.html", config={"displayModeBar": False},
               post_script="document.body.style.margin='0px';document.body.style.overflow='hidden';")
